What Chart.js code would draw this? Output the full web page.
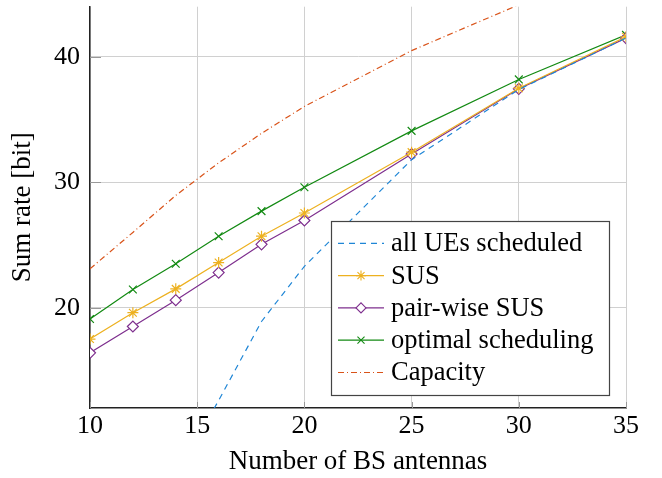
<!DOCTYPE html>
<html>
<head>
<meta charset="utf-8">
<script src="https://cdn.jsdelivr.net/npm/chart.js@4/dist/chart.umd.min.js"></script>
<style>
  html, body { margin: 0; padding: 0; background: #fff; }
  #wrap { width: 662px; height: 478px; }
</style>
</head>
<body>
<div id="wrap"><canvas id="line_chart" width="662" height="478"></canvas></div>
<script>
// values
var antennas = [10, 12, 14, 16, 18, 20, 25, 30, 35];
var allUEs = [null, null, 6.6, 12.6, 18.9, 23.3, 31.8, 37.4, 41.5];
var sus = [17.5, 19.6, 21.5, 23.6, 25.7, 27.55, 32.4, 37.5, 41.6];
var pairSus = [16.4, 18.5, 20.6, 22.8, 25.05, 26.95, 32.25, 37.45, 41.5];
var optimal = [19.1, 21.45, 23.5, 25.7, 27.7, 29.6, 34.1, 38.2, 41.75];
var capacity = [23.1, 26.0, 28.95, 31.55, 33.9, 36.05, 40.5, 44.15, 47.3];
var xTicks = [10, 15, 20, 25, 30, 35];
var yTicks = [20, 30, 40];

var FONT = "'Liberation Serif', 'Times New Roman', serif";

function pts(vals) {
  return antennas.map(function (x, i) { return { x: x, y: vals[i] }; });
}

function series(label, vals, color, dash, style) {
  return {
    label: label,
    data: pts(vals),
    borderColor: color,
    backgroundColor: style === 'rectRot' ? '#fff' : color,
    borderWidth: 1.2,
    borderDash: dash,
    pointStyle: style || false,
    pointRadius: style ? 5.5 : 0,
    pointBorderColor: color,
    pointBorderWidth: 1.2,
    pointBackgroundColor: style === 'rectRot' ? '#fff' : color,
    tension: 0,
    spanGaps: false
  };
}

// legend drawn inside the plot, pgfplots style
var boxLegend = {
  id: 'boxLegend',
  afterDraw: function (chart) {
    var ctx = chart.ctx;
    var x0 = 331, y0 = 221, w = 278, h = 174, rowH = 32.3;
    ctx.save();
    ctx.fillStyle = '#fff';
    ctx.fillRect(x0, y0, w, h);
    ctx.strokeStyle = '#444';
    ctx.lineWidth = 1.2;
    ctx.strokeRect(x0 + 0.5, y0 + 0.5, w, h);
    chart.data.datasets.forEach(function (ds, i) {
      var cy = 243.3 + i * rowH;
      ctx.save();
      ctx.strokeStyle = ds.borderColor;
      ctx.lineWidth = 1.2;
      ctx.setLineDash(ds.borderDash || []);
      ctx.beginPath();
      ctx.moveTo(338, cy);
      ctx.lineTo(384, cy);
      ctx.stroke();
      ctx.restore();
      if (ds.pointStyle) {
        ctx.save();
        ctx.fillStyle = ds.pointBackgroundColor;
        ctx.strokeStyle = ds.pointBorderColor;
        ctx.lineWidth = 1.1;
        ctx.setLineDash([]);
        Chart.helpers.drawPoint(ctx, {
          pointStyle: ds.pointStyle, radius: 5, rotation: 0, borderWidth: 1.1
        }, 361, cy);
        ctx.restore();
      }
      ctx.fillStyle = '#000';
      ctx.font = '26.5px ' + FONT;
      ctx.textBaseline = 'middle';
      ctx.textAlign = 'left';
      ctx.fillText(ds.label, 391, cy + 1);
    });
    ctx.restore();
  }
};

// short inner tick marks on the axes
var innerTicks = {
  id: 'innerTicks',
  beforeDatasetsDraw: function (chart) {
    var ctx = chart.ctx, a = chart.chartArea;
    var xs = chart.scales.x, ys = chart.scales.y;
    ctx.save();
    ctx.strokeStyle = '#999';
    ctx.lineWidth = 1;
    xTicks.forEach(function (v) {
      var px = Math.round(xs.getPixelForValue(v)) + 0.5;
      ctx.beginPath(); ctx.moveTo(px, a.bottom); ctx.lineTo(px, a.bottom - 6); ctx.stroke();
    });
    yTicks.forEach(function (v) {
      var py = Math.round(ys.getPixelForValue(v)) + 0.5;
      ctx.beginPath(); ctx.moveTo(a.left, py); ctx.lineTo(a.left + 11, py); ctx.stroke();
    });
    ctx.restore();
  }
};

new Chart(document.getElementById('line_chart').getContext('2d'), {
  type: 'line',
  data: {
    datasets: [
      series('all UEs scheduled', allUEs, '#1f86d6', [6, 5], false),
      series('SUS', sus, '#EDB120', [], 'star'),
      series('pair-wise SUS', pairSus, '#7E2F8E', [], 'rectRot'),
      series('optimal scheduling', optimal, '#138a13', [], 'crossRot'),
      series('Capacity', capacity, '#D95319', [6, 3, 1, 3], false)
    ]
  },
  options: {
    responsive: false,
    animation: false,
    layout: { padding: { top: 6, right: 36, left: 0, bottom: 0 } },
    plugins: { legend: { display: false }, tooltip: { enabled: false } },
    scales: {
      x: {
        type: 'linear',
        min: 10,
        max: 35,
        afterBuildTicks: function (s) { s.ticks = xTicks.map(function (v) { return { value: v }; }); },
        afterFit: function (s) { s.height = 70; s.paddingLeft = 0; s.paddingRight = 0; },
        grid: { color: '#d0d0d0', lineWidth: 1, drawTicks: false },
        border: { color: '#222', width: 1.5 },
        ticks: { color: '#000', padding: 3, font: { family: FONT, size: 26 } },
        title: {
          display: true,
          text: 'Number of BS antennas',
          color: '#000',
          font: { family: FONT, size: 27 },
          padding: { top: 0, bottom: 0 }
        }
      },
      y: {
        min: 12,
        max: 44,
        afterBuildTicks: function (s) { s.ticks = yTicks.map(function (v) { return { value: v }; }); },
        afterFit: function (s) { s.width = 90; s.paddingTop = 0; s.paddingBottom = 0; },
        grid: { color: '#d0d0d0', lineWidth: 1, drawTicks: false },
        border: { color: '#222', width: 1.5 },
        ticks: { color: '#000', padding: 10, font: { family: FONT, size: 26 } },
        title: {
          display: true,
          text: 'Sum rate [bit]',
          color: '#000',
          font: { family: FONT, size: 27 },
          padding: { top: 7, bottom: 0 }
        }
      }
    }
  },
  plugins: [innerTicks, boxLegend]
});
</script>
</body>
</html>
